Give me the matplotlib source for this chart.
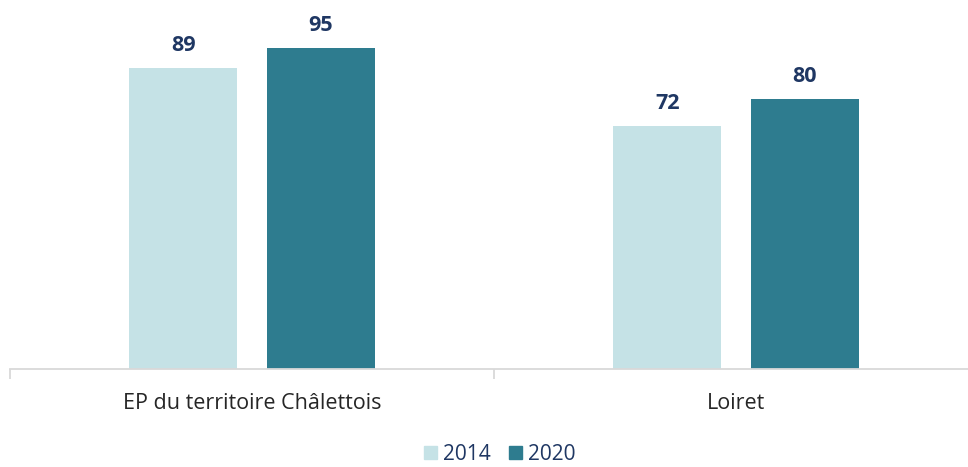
import matplotlib
matplotlib.use("Agg")
import matplotlib.pyplot as plt
from matplotlib.patches import Patch
import numpy as np

categories = ["EP du territoire Châlettois", "Loiret"]
years = ["2014", "2020"]
values_2014 = [89, 72]
values_2020 = [95, 80]

W, H = 968, 467
fig = plt.figure(figsize=(W/100, H/100), dpi=100)
left_px, right_px, bottom_px, top_px = 10, 978, 369, 0
ax = fig.add_axes([left_px/W, (H-bottom_px)/H, (right_px-left_px)/W, (bottom_px-top_px)/H])

c14 = "#C5E2E6"
c20 = "#2E7C8F"
lab_col = "#1F3763"
x = np.arange(len(categories))
bw = 0.223
off = 0.142
b1 = ax.bar(x - off, values_2014, bw, color=c14)
b2 = ax.bar(x + off, values_2020, bw, color=c20)
for bars, vals in ((b1, values_2014), (b2, values_2020)):
    for b, v in zip(bars, vals):
        ax.annotate(f"{v}", (b.get_x() + b.get_width()/2, v), xytext=(0, 8.5),
                    textcoords="offset points", ha="center", va="bottom",
                    fontsize=15.5, fontweight="bold", color=lab_col, family="Open Sans")

ax.set_xlim(-0.5, 1.5)
ax.set_ylim(0, 369/3.379)
for s in ["top", "right", "left"]:
    ax.spines[s].set_visible(False)
ax.spines["bottom"].set_color("#D9D9D9")
ax.spines["bottom"].set_linewidth(1.3)
ax.set_yticks([])
ax.set_xticks([-0.5, 0.5, 1.5], minor=False)
ax.set_xticklabels([])
ax.tick_params(axis="x", which="major", length=7, color="#D9D9D9", width=1.3)
ax.set_xticks(x, minor=True)
ax.set_xticklabels(categories, minor=True, fontsize=15.5, color="#262626", family="Open Sans")
ax.tick_params(axis="x", which="minor", length=0, pad=17)

handles = [Patch(color=c14, label=years[0]), Patch(color=c20, label=years[1])]
fig.legend(handles=handles, loc="center", bbox_to_anchor=(500/W, 1 - 454/H), ncol=2,
           frameon=False, handlelength=0.6, handleheight=0.6, handletextpad=0.3,
           columnspacing=0.9, prop={"family": "Open Sans", "size": 15},
           labelcolor=lab_col)

fig.savefig("out.png", dpi=100)
